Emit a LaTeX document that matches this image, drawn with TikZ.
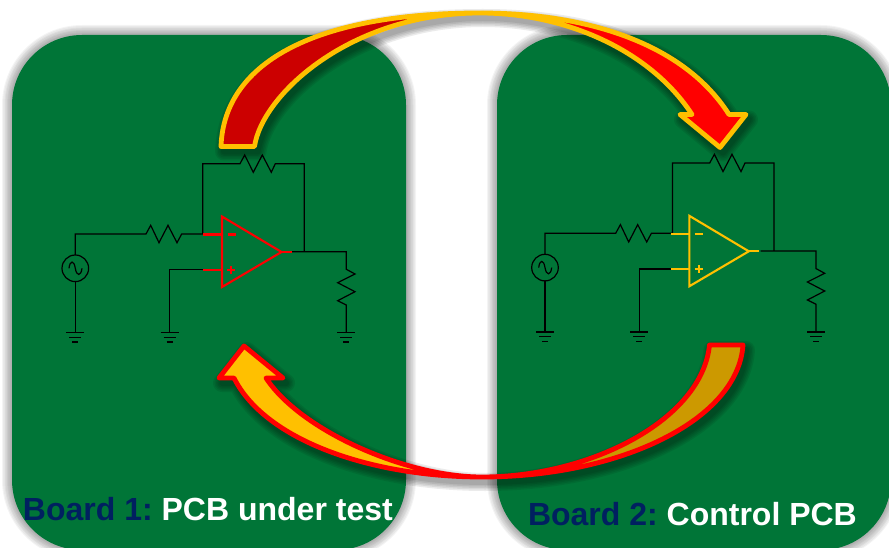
\documentclass[tikz,border=0pt]{standalone}
\usepackage{fontspec}
\setmainfont{Liberation Sans}
\definecolor{boardgreen}{RGB}{0,117,55}
\definecolor{navytext}{RGB}{0,32,96}
\definecolor{amber}{RGB}{255,192,0}
\definecolor{darkamber}{RGB}{204,153,0}
\definecolor{darkred}{RGB}{204,0,0}
\definecolor{purered}{RGB}{255,0,0}
\tikzset{
  wire/.style={draw=black,line width=1.2pt,line join=miter},
  opamp/.style={line width=2.1pt,line join=miter},
  boardlabel/.style={font=\fontsize{32}{36}\selectfont\bfseries,anchor=base west,inner sep=0pt,outer sep=0pt},
  softlayer/.style={draw=black,draw opacity=0.045,line join=round,line cap=round},
  arrowline/.style={line width=4.8pt,line join=round,fill=none}
}
% board outline
\newcommand{\boardpath}[1]{[rounded corners=70pt] (#1,35) rectangle (#1+394,550)}
% top arrow
\newcommand{\topleft}{(221,146.5) .. controls (224,60) and (320,13) .. (480,13) .. controls (350,13) and (262,95) .. (254.5,146.5) -- cycle}
\newcommand{\topright}{(480,13) .. controls (590,13) and (685,45) .. (729,114.5) -- (746,114.5) -- (720,147.5) -- (680,114.5) -- (692,114.5) .. controls (650,50) and (565,13) .. (480,13) -- cycle}
\newcommand{\topall}{(221,146.5) .. controls (224,60) and (320,13) .. (480,13) .. controls (590,13) and (685,45) .. (729,114.5) -- (746,114.5) -- (720,147.5) -- (680,114.5) -- (692,114.5) .. controls (650,50) and (565,13) .. (480,13) .. controls (350,13) and (262,95) .. (254.5,146.5) -- cycle}
% bottom arrow
\newcommand{\botright}{(743,345) .. controls (738,420) and (620,477) .. (482,477) .. controls (590,477) and (702,420) .. (709.5,345) -- cycle}
\newcommand{\botleft}{(482,477) .. controls (370,477) and (265,440) .. (234,378) -- (219,378) -- (244,346) -- (283,378) -- (266,378) .. controls (300,430) and (405,477) .. (482,477) -- cycle}
\newcommand{\botall}{(743,345) .. controls (738,420) and (620,477) .. (482,477) .. controls (370,477) and (265,440) .. (234,378) -- (219,378) -- (244,346) -- (283,378) -- (266,378) .. controls (300,430) and (405,477) .. (482,477) .. controls (590,477) and (702,420) .. (709.5,345) -- cycle}
% circuit: #1 shift x, #2 shift y, #3 op-amp colour, #4 extra op-amp shift x
\newcommand{\gnd}[1]{
  \draw[wire] (#1) ++(-9,0) -- ++(18,0);
  \draw[wire] (#1) ++(-6,4.7) -- ++(12,0);
  \draw[wire] (#1) ++(-3,9.2) -- ++(6,0);
}
\newcommand{\circuit}[4]{
\begin{scope}[shift={(#1,#2)}]
  \coordinate (src) at (75.3,268.3);
  \coordinate (g1) at (75.3,332.7);
  \coordinate (g2) at (169.7,332.7);
  \coordinate (g3) at (346.3,332.7);
  \draw[wire] (src) circle[radius=13.3];
  \draw[wire] (69,268.3) .. controls (70,260) and (74,260) .. (75.3,268.3) .. controls (76.6,276.5) and (81,276.5) .. (82,268.3);
  \draw[wire] (75.3,255) -- (75.3,234) -- (146,234) -- (150.7,225.3) -- (159,242.7) -- (168,225.3) -- (177,242.7) -- (181.7,234) -- (202.7,234) -- (202.7,163.7) -- (240,163.7) -- (244.7,155) -- (253.3,172.3) -- (262.3,155) -- (271.3,172.3) -- (275.3,163.7) -- (304.3,163.7) -- (304.3,251.7);
  \draw[wire] (203,269.7) -- (169.7,269.7) -- (g2);
  \draw[wire] (291,251.7) -- (346.3,251.7) -- (346.3,269.3) -- (355,274) -- (337.7,282.7) -- (355,291.7) -- (337.7,300.7) -- (346.3,305) -- (g3);
  \draw[wire] (75.3,281.6) -- (g1);
  \gnd{g1}\gnd{g2}\gnd{g3}
  \begin{scope}[xshift=#4]
    \draw[opamp,draw=#3] (222,216.5) -- (222,287) -- (281.5,252) -- cycle;
    \draw[opamp,draw=#3] (203.3,234.5) -- (222,234.5) (203.3,269.7) -- (222,269.7) (281.5,252) -- (292,252);
    \draw[opamp,draw=#3,line width=2.2pt] (227.5,234.5) -- (235.5,234.5) (227.3,270) -- (235.3,270) (231.3,266) -- (231.3,274);
  \end{scope}
\end{scope}
}
\begin{document}
\begin{tikzpicture}[x=1pt,y=-1pt]
\useasboundingbox (0,0) rectangle (889,548);
\fill[white] (0,0) rectangle (889,548);
% board shadows
\foreach \w in {20,18,15,13,10,8,5,3}{
  \draw[softlayer,line width=\w pt] \boardpath{12};
  \draw[softlayer,line width=\w pt] \boardpath{497};
}
\fill[boardgreen] \boardpath{12};
\fill[boardgreen] \boardpath{497};
% circuits
\circuit{0}{0}{purered}{0}
\circuit{469.7}{-0.7}{amber}{-2.4}
% top arrow
\begin{scope}[shift={(3,5)}]
\foreach \w in {18,15,12,9,6}{\draw[softlayer,line width=\w pt,draw opacity=0.08] \topall;}
\end{scope}
\fill[darkred] \topleft;
\fill[purered] \topright;
\draw[arrowline,draw=amber] \topall;
% bottom arrow
\begin{scope}[shift={(3,5)}]
\foreach \w in {18,15,12,9,6}{\draw[softlayer,line width=\w pt,draw opacity=0.08] \botall;}
\end{scope}
\fill[darkamber] \botright;
\fill[amber] \botleft;
\draw[arrowline,draw=purered] \botall;
% labels
\node[boardlabel] (lab1) at (23,520) {\textcolor{navytext}{Board 1:} \hspace{-3pt}\textcolor{white}{PCB under test}};
\node[boardlabel] (lab2) at (528,525) {\textcolor{navytext}{Board 2:} \hspace{-3pt}\textcolor{white}{Control PCB}};
\end{tikzpicture}
\end{document}
